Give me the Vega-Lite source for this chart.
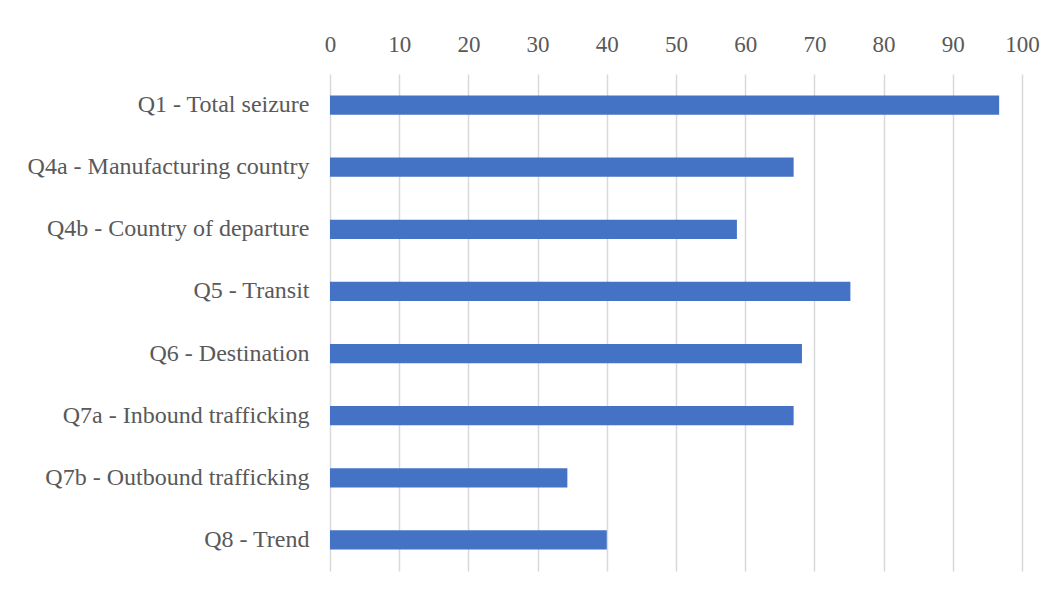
{
  "$schema": "https://vega.github.io/schema/vega-lite/v6.json",
  "autosize": {"type": "none"},
  "padding": {"left": 330, "top": 74, "right": 34, "bottom": 20},
  "width": 692,
  "height": 497,
  "background": "#ffffff",
  "config": {
    "view": {"stroke": null},
    "font": "'Liberation Serif', 'Times New Roman', serif"
  },
  "data": {
    "values": [
      {"question": "Q1 - Total seizure", "value": 96.7},
      {"question": "Q4a - Manufacturing country", "value": 67.0},
      {"question": "Q4b - Country of departure", "value": 58.8},
      {"question": "Q5 - Transit", "value": 75.2},
      {"question": "Q6 - Destination", "value": 68.2},
      {"question": "Q7a - Inbound trafficking", "value": 67.0},
      {"question": "Q7b - Outbound trafficking", "value": 34.3},
      {"question": "Q8 - Trend", "value": 40.0}
    ]
  },
  "mark": {"type": "bar", "color": "#4472C4"},
  "encoding": {
    "y": {
      "field": "question",
      "type": "nominal",
      "sort": null,
      "scale": {"paddingInner": 0.69, "paddingOuter": 0.345},
      "axis": {
        "title": null,
        "domain": false,
        "ticks": false,
        "labelFont": "'Liberation Serif', 'Times New Roman', serif",
        "labelFontSize": 24,
        "labelColor": "#595959",
        "labelPadding": 21,
        "labelLimit": 400
      }
    },
    "x": {
      "field": "value",
      "type": "quantitative",
      "scale": {"domain": [0, 100], "nice": false},
      "axis": {
        "orient": "top",
        "title": null,
        "values": [0, 10, 20, 30, 40, 50, 60, 70, 80, 90, 100],
        "domain": false,
        "ticks": false,
        "grid": true,
        "gridColor": "#d9d9d9",
        "gridWidth": 1.5,
        "labelFlush": false,
        "labelFont": "'Liberation Serif', 'Times New Roman', serif",
        "labelFontSize": 23,
        "labelColor": "#595959",
        "labelPadding": 18
      }
    }
  }
}
